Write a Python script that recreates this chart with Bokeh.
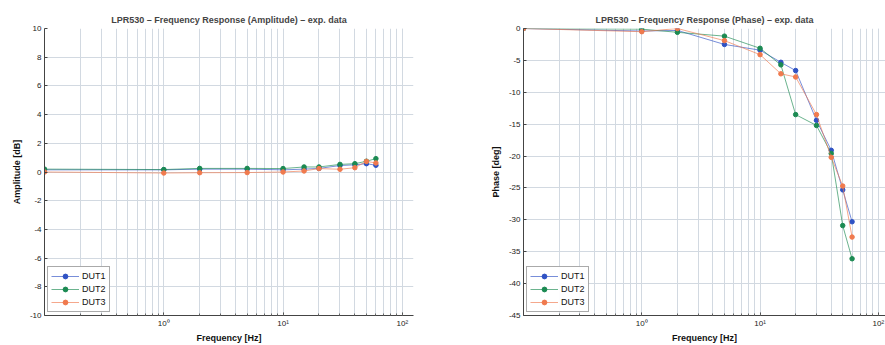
from bokeh.plotting import figure
from bokeh.layouts import row
from bokeh.models import FixedTicker, Range1d, Legend, LegendItem
from bokeh.embed import file_html
from bokeh.resources import INLINE

# ---- data ----
freqs = [0.1, 1, 2, 5, 10, 15, 20, 30, 40, 50, 60]
series_names = ["DUT1", "DUT2", "DUT3"]

amp_dut1 = [0.15, 0.15, 0.2, 0.2, 0.15, 0.2, 0.25, 0.45, 0.5, 0.58, 0.47]
amp_dut2 = [0.2, 0.17, 0.25, 0.25, 0.24, 0.35, 0.35, 0.53, 0.58, 0.75, 0.93]
amp_dut3 = [0.0, -0.07, -0.05, -0.04, 0.0, 0.07, 0.24, 0.19, 0.3, 0.74, 0.63]

ph_dut1 = [0.0, -0.4, -0.3, -2.5, -3.4, -5.3, -6.6, -14.4, -19.1, -25.3, -30.3]
ph_dut2 = [0.0, -0.1, -0.6, -1.2, -3.1, -5.7, -13.5, -15.2, -19.6, -30.9, -36.1]
ph_dut3 = [0.0, -0.5, 0.0, -1.9, -4.1, -7.1, -7.6, -13.5, -20.2, -24.7, -32.7]

amp_yticks = [-10, -8, -6, -4, -2, 0, 2, 4, 6, 8, 10]
ph_yticks = [-45, -40, -35, -30, -25, -20, -15, -10, -5, 0]
x_major = [1, 10, 100]
x_labels = {1: "10\u2070", 10: "10\u00b9", 100: "10\u00b2"}

colors = ["#2f52c4", "#1b8a52", "#f07a4e"]
FONT = "Liberation Sans"
GRID = "#d2d9e1"


def x_minor():
    out = []
    for dec in [0.1, 1, 10, 100]:
        for k in range(1, 10):
            out.append(dec * k)
    return out


def make_fig(title, ylabel, ys, yticks, yr, w, left, right, xmax):
    p = figure(width=w, height=345, x_axis_type="log",
               x_range=Range1d(0.1, xmax), y_range=Range1d(*yr),
               output_backend="svg", toolbar_location=None,
               min_border_left=left, min_border_right=right,
               min_border_top=28, min_border_bottom=29)
    p.title.text = title
    p.title.align = "center"
    p.title.text_font = FONT
    p.title.text_font_size = "9px"
    p.title.text_font_style = "bold"
    p.title.offset = 0
    p.title.standoff = 8
    p.outline_line_color = None

    p.xaxis.ticker = FixedTicker(ticks=x_major, minor_ticks=x_minor())
    p.xaxis.major_label_overrides = x_labels
    p.yaxis.ticker = FixedTicker(ticks=yticks)
    p.yaxis.major_label_overrides = {t: str(t) for t in yticks}

    for ax in (p.xaxis[0], p.yaxis[0]):
        ax.major_label_text_font = FONT
        ax.major_label_text_font_size = "8px"
        ax.major_label_text_color = "#222222"
        ax.axis_label_text_font = FONT
        ax.axis_label_text_font_size = "9px"
        ax.axis_label_text_font_style = "bold"
        ax.axis_label_text_color = "#111111"
        ax.axis_line_color = "#444444"
        ax.major_tick_in = 3
        ax.major_tick_out = 0
        ax.minor_tick_in = 2
        ax.minor_tick_out = 0
        ax.major_tick_line_color = "#444444"
        ax.minor_tick_line_color = "#666666"
        ax.major_label_standoff = 3
        ax.axis_label_standoff = 2
    p.yaxis.axis_label_standoff = 5
    p.xaxis.axis_label = "Frequency [Hz]"
    p.yaxis.axis_label = ylabel

    p.xgrid.grid_line_color = GRID
    p.xgrid.minor_grid_line_color = GRID
    p.ygrid.grid_line_color = GRID
    p.xgrid.grid_line_width = 1
    p.ygrid.grid_line_width = 1

    items = []
    for name, y, c in zip(series_names, ys, colors):
        ln = p.line(freqs, y, line_color=c, line_width=1, line_alpha=0.65)
        sc = p.scatter(freqs, y, marker="circle", size=4.5, fill_color=c,
                       line_color=c)
        items.append(LegendItem(label=name, renderers=[ln, sc]))
    leg = Legend(items=items, location="bottom_left")
    leg.label_text_font = FONT
    leg.label_text_font_size = "9px"
    leg.label_text_color = "#111111"
    leg.glyph_width = 28
    leg.glyph_height = 12
    leg.label_height = 12
    leg.spacing = 1
    leg.padding = 3
    leg.margin = 3
    leg.border_line_color = "#555555"
    leg.border_line_width = 1
    leg.label_standoff = 3
    p.add_layout(leg)
    return p


p1 = make_fig("LPR530 \u2013 Frequency Response (Amplitude) \u2013 exp. data",
              "Amplitude [dB]", [amp_dut1, amp_dut2, amp_dut3],
              amp_yticks, (-10, 10), 442, 44, 29, 124)
p2 = make_fig("LPR530 \u2013 Frequency Response (Phase) \u2013 exp. data",
              "Phase [deg]", [ph_dut1, ph_dut2, ph_dut3],
              ph_yticks, (-45, 0), 443, 81, 0, 115)

layout = row(p1, p2)
open("out.html", "w").write(file_html(layout, INLINE))
